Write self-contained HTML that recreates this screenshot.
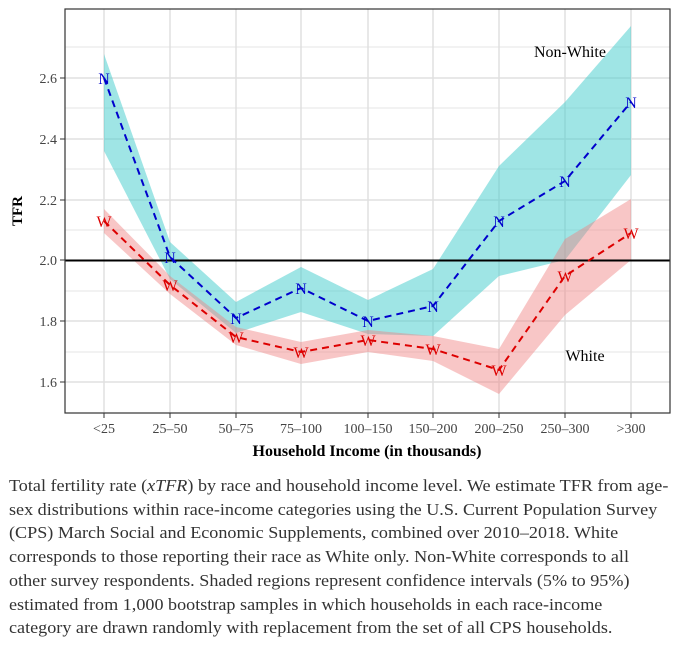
<!DOCTYPE html><html><head><style>body{margin:0;background:#fff;width:680px;height:648px;overflow:hidden}
.cap{position:absolute;left:9px;top:474px;width:640px;font-family:"Liberation Serif",serif;font-size:17px;line-height:23.7px;color:#333;white-space:nowrap;transform:scaleX(1.066);transform-origin:0 0}</style></head><body>
<svg width="680" height="470" style="position:absolute;left:0;top:0" font-family="Liberation Serif,serif">
<g stroke="#e6e6e6" stroke-width="1">
<line x1="65" x2="670" y1="352" y2="352"/><line x1="65" x2="670" y1="291" y2="291"/><line x1="65" x2="670" y1="230" y2="230"/><line x1="65" x2="670" y1="169" y2="169"/><line x1="65" x2="670" y1="108" y2="108"/><line x1="65" x2="670" y1="47" y2="47"/>
</g>
<g stroke="#e0e0e0" stroke-width="1.5">
<line x1="65" x2="670" y1="382" y2="382"/><line x1="65" x2="670" y1="321" y2="321"/><line x1="65" x2="670" y1="200" y2="200"/><line x1="65" x2="670" y1="139" y2="139"/><line x1="65" x2="670" y1="78" y2="78"/>
<line y1="9" y2="413" x1="104" x2="104"/><line y1="9" y2="413" x1="170" x2="170"/><line y1="9" y2="413" x1="236" x2="236"/><line y1="9" y2="413" x1="301" x2="301"/><line y1="9" y2="413" x1="368" x2="368"/><line y1="9" y2="413" x1="433" x2="433"/><line y1="9" y2="413" x1="499" x2="499"/><line y1="9" y2="413" x1="565" x2="565"/><line y1="9" y2="413" x1="631" x2="631"/>
</g>
<polygon fill="#3fcccc" fill-opacity="0.5" points="104,54 170,242 236,302 301,267 368,300 433,269 499,166 565,102 631,26 631,175 565,260 499,276 433,336 368,334 301,312 236,333 170,279 104,151"/>
<polygon fill="#f08080" fill-opacity="0.45" points="104,209 170,276 236,327 301,342 368,330 433,336 499,349 565,239 631,199 631,260 565,315 499,394 433,361 368,352 301,364 236,345 170,294 104,233"/>
<line x1="65" x2="670" y1="260.5" y2="260.5" stroke="#000" stroke-width="2"/>
<polyline fill="none" stroke="#0000cc" stroke-width="2" stroke-dasharray="7,5" points="104,78 170,257 236,318 301,288 368,321 433,306 499,221 565,181 631,102"/>
<polyline fill="none" stroke="#dd0000" stroke-width="2" stroke-dasharray="7,5" points="104,221 170,285 236,337 301,352 368,340 433,349 499,370 565,276 631,233"/>
<g fill="#0000cc" font-size="16" text-anchor="middle"><text x="104" y="84">N</text><text x="170" y="263">N</text><text x="236" y="324">N</text><text x="301" y="294">N</text><text x="368" y="327">N</text><text x="433" y="312">N</text><text x="499" y="227">N</text><text x="565" y="187">N</text><text x="631" y="108">N</text></g>
<g fill="#dd0000" font-size="16" text-anchor="middle"><text x="104" y="227">W</text><text x="170" y="291">W</text><text x="236" y="343">W</text><text x="301" y="358">W</text><text x="368" y="346">W</text><text x="433" y="355">W</text><text x="499" y="376">W</text><text x="565" y="282">W</text><text x="631" y="239">W</text></g>
<rect x="65" y="9" width="605" height="404" fill="none" stroke="#333" stroke-width="1.2"/>
<g fill="#444" font-size="14" text-anchor="end"><text x="57" y="387">1.6</text><text x="57" y="326">1.8</text><text x="57" y="265">2.0</text><text x="57" y="205">2.2</text><text x="57" y="144">2.4</text><text x="57" y="83">2.6</text></g>
<g stroke="#333"><line x1="60" x2="65" y1="382" y2="382"/><line x1="60" x2="65" y1="321" y2="321"/><line x1="60" x2="65" y1="260" y2="260"/><line x1="60" x2="65" y1="200" y2="200"/><line x1="60" x2="65" y1="139" y2="139"/><line x1="60" x2="65" y1="78" y2="78"/>
<line y1="413" y2="418" x1="104" x2="104"/><line y1="413" y2="418" x1="170" x2="170"/><line y1="413" y2="418" x1="236" x2="236"/><line y1="413" y2="418" x1="301" x2="301"/><line y1="413" y2="418" x1="368" x2="368"/><line y1="413" y2="418" x1="433" x2="433"/><line y1="413" y2="418" x1="499" x2="499"/><line y1="413" y2="418" x1="565" x2="565"/><line y1="413" y2="418" x1="631" x2="631"/></g>
<g fill="#444" font-size="14" text-anchor="middle"><text x="104" y="433">&lt;25</text><text x="170" y="433">25–50</text><text x="236" y="433">50–75</text><text x="301" y="433">75–100</text><text x="368" y="433">100–150</text><text x="433" y="433">150–200</text><text x="499" y="433">200–250</text><text x="565" y="433">250–300</text><text x="631" y="433">&gt;300</text></g>
<text x="367" y="456" text-anchor="middle" font-size="16" font-weight="bold">Household Income (in thousands)</text>
<text transform="translate(22,211) rotate(-90)" text-anchor="middle" font-size="15" font-weight="bold">TFR</text>
<text x="570" y="57" text-anchor="middle" font-size="16">Non-White</text>
<text x="585" y="361" text-anchor="middle" font-size="16">White</text>
</svg>
<div class="cap">Total fertility rate (<i>xTFR</i>) by race and household income level. We estimate TFR from age-<br>sex distributions within race-income categories using the U.S. Current Population Survey<br>(CPS) March Social and Economic Supplements, combined over 2010–2018. White<br>corresponds to those reporting their race as White only. Non-White corresponds to all<br>other survey respondents. Shaded regions represent confidence intervals (5% to 95%)<br>estimated from 1,000 bootstrap samples in which households in each race-income<br>category are drawn randomly with replacement from the set of all CPS households.</div>
</body></html>
